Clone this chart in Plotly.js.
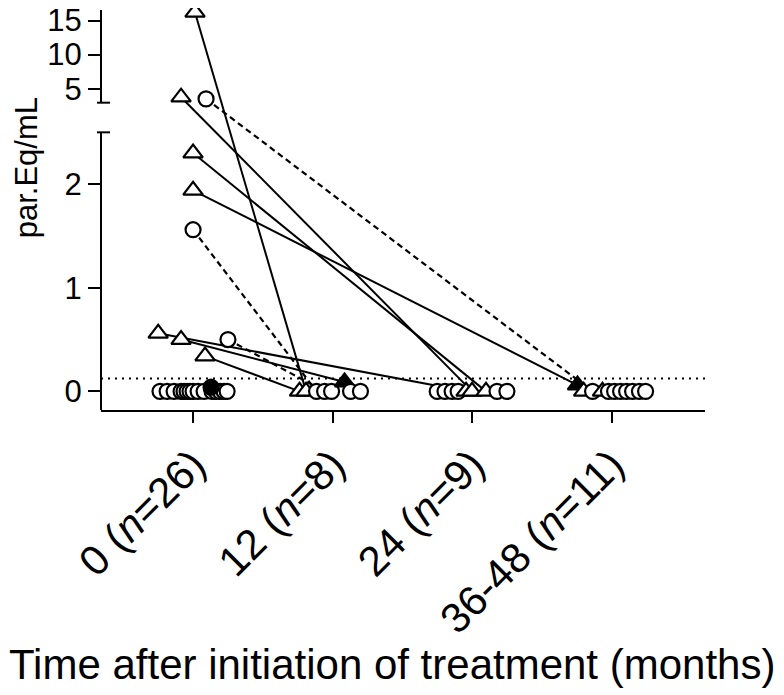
<!DOCTYPE html>
<html><head><meta charset="utf-8">
<script src="https://cdn.plot.ly/plotly-3.0.1.min.js"></script>
<style>body{margin:0;background:#fff}#chart{width:784px;height:695px}</style>
</head><body><div id="chart"></div>
<script>
// ---- data ----
const categories = ['0 (<i>n</i>=26)', '12 (<i>n</i>=8)', '24 (<i>n</i>=9)', '36-48 (<i>n</i>=11)'];

// time 0 (n=26)
const values0 = [16.2, 3.75, 3.5, 2.30, 1.94, 1.56, 0.56, 0.50, 0.50, 0.34,
                 0,0,0,0,0,0,0,0,0,0, 0,0,0,0,0, 0.04];
const kinds0  = ['tri','tri','circ','tri','tri','circ','tri','tri','circ','tri',
                 'circ','circ','circ','circ','circ','circ','circ','circ','circ','circ',
                 'circ','circ','circ','circ','circ','circF'];
const jitter0 = [0.014,-0.086,0.093,0,0,0,-0.25,-0.086,0.25,0.086,
                 -0.237,-0.186,-0.136,-0.086,-0.065,-0.043,-0.022,0,0.036,0.079,
                 0.136,0.165,0.194,0.222,0.244, 0.129];

// time 12 (n=8)
const values12 = [0,0,0,0,0,0.09,0,0];
const kinds12  = ['tri','tri','circ','circ','circ','triF','circ','circ'];
const jitter12 = [-0.237,-0.19,-0.115,-0.057,-0.007,0.086,0.129,0.2];

// time 24 (n=9)
const values24 = [0,0,0,0,0,0,0,0,0];
const kinds24  = ['circ','circ','circ','circ','tri','tri','tri','circ','circ'];
const jitter24 = [-0.25,-0.194,-0.143,-0.1,-0.043,0,0.1,0.179,0.25];

// time 36-48 (n=11)
const values36 = [0.06,0,0,0,0,0,0,0,0,0,0];
const kinds36  = ['triF','tri','circ','tri','circ','circ','circ','circ','circ','circ','circ'];
const jitter36 = [-0.244,-0.2,-0.136,-0.065,-0.022,0.022,0.065,0.108,0.151,0.2,0.244];

// follow-up links: patient index at time 0 -> group / index at later time
const linkFrom    = [0, 1, 2, 3, 4, 5, 6, 7, 8, 9];
const linkToGroup = [1, 2, 3, 2, 3, 1, 2, 1, 1, 1];
const linkToIdx   = [1, 5, 2, 6, 0, 2, 4, 5, 3, 0];

const threshold = 0.125;
const yTickValues = [0, 1, 2, 5, 10, 15];

// ---- broken axis transform ----
const brkTop = 2.5, upStart = 3, upBase = 2.79, upScale = 0.0657;
function yT(v){ return v <= brkTop ? v : upBase + (v - upStart) * upScale; }

const groups = [
  {vals: values0,  kinds: kinds0,  jit: jitter0},
  {vals: values12, kinds: kinds12, jit: jitter12},
  {vals: values24, kinds: kinds24, jit: jitter24},
  {vals: values36, kinds: kinds36, jit: jitter36}
];

const traces = [];
// lines
linkFrom.forEach((fi, k) => {
  const g0 = groups[0], gt = groups[linkToGroup[k]], ti = linkToIdx[k];
  const dashed = g0.kinds[fi].startsWith('circ');
  traces.push({
    type: 'scatter', mode: 'lines', hoverinfo: 'skip', showlegend: false,
    x: [0 + g0.jit[fi], linkToGroup[k] + gt.jit[ti]],
    y: [yT(g0.vals[fi]), yT(gt.vals[ti])],
    line: {color: '#000', width: dashed ? 2.2 : 2, dash: dashed ? '6px,4px' : 'solid'}
  });
});
// markers
groups.forEach((g, gi) => {
  traces.push({
    type: 'scatter', mode: 'markers', hoverinfo: 'skip', showlegend: false,
    x: g.vals.map((v, i) => gi + g.jit[i]),
    y: g.vals.map(yT),
    marker: {
      symbol: g.kinds.map(k => k.startsWith('tri') ? 'triangle-up' : 'circle'),
      size: g.kinds.map(k => k.startsWith('tri') ? 17 : 15),
      color: g.kinds.map(k => k.endsWith('F') ? '#000' : '#fff'),
      opacity: 1,
      line: {color: '#000', width: 2.2}
    }
  });
});

const font = 'Liberation Sans, Arial, Helvetica, sans-serif';
const capL = -4/604, capR = 9/604;
const layout = {
  width: 784, height: 695,
  margin: {l: 101, r: 79, t: 8, b: 285},
  paper_bgcolor: '#fff', plot_bgcolor: '#fff',
  showlegend: false,
  font: {family: font, color: '#000'},
  xaxis: {
    range: [-0.66, 3.67], tickmode: 'array', tickvals: [0,1,2,3], ticktext: categories,
    tickangle: -45, ticks: 'outside', ticklen: 11, tickwidth: 2, tickcolor: '#000',
    showline: true, linewidth: 2, linecolor: '#000', showgrid: false, zeroline: false,
    tickfont: {size: 42, family: font, color: '#000'}, automargin: false, fixedrange: true
  },
  yaxis: {
    range: [-0.18, 3.70], tickmode: 'array', tickvals: yTickValues.map(yT),
    ticktext: yTickValues.map(String), ticks: 'outside', ticklen: 12, tickwidth: 2,
    tickcolor: '#000', showline: false, showgrid: false, zeroline: false,
    tickfont: {size: 31, family: font, color: '#000'}, automargin: false, fixedrange: true
  },
  shapes: [
    {type: 'line', xref: 'paper', yref: 'y', x0: 0, x1: 0, y0: -0.18, y1: brkTop, line: {color: '#000', width: 2}},
    {type: 'line', xref: 'paper', yref: 'y', x0: 0, x1: 0, y0: yT(2.94), y1: 3.68, line: {color: '#000', width: 2}},
    {type: 'line', xref: 'paper', yref: 'y', x0: capL, x1: capR, y0: brkTop, y1: brkTop, line: {color: '#000', width: 2}},
    {type: 'line', xref: 'paper', yref: 'y', x0: capL, x1: capR, y0: yT(2.94), y1: yT(2.94), line: {color: '#000', width: 2}},
    {type: 'line', xref: 'paper', yref: 'y', x0: 0, x1: 1, y0: threshold, y1: threshold, line: {color: '#000', width: 2, dash: '2px,5px'}}
  ],
  annotations: [
    {text: 'Time after initiation of treatment (months)', xref: 'paper', yref: 'paper',
     x: 0.482, y: -0.634, xanchor: 'center', yanchor: 'middle', showarrow: false,
     font: {size: 42, family: font, color: '#000'}},
    {text: 'par.Eq/mL', xref: 'paper', yref: 'paper', x: -0.122, y: 0.602,
     xanchor: 'center', yanchor: 'middle', textangle: -90, showarrow: false,
     font: {size: 31, family: font, color: '#000'}}
  ]
};
Plotly.newPlot('chart', traces, layout, {staticPlot: true, displayModeBar: false});
</script>
</body></html>
